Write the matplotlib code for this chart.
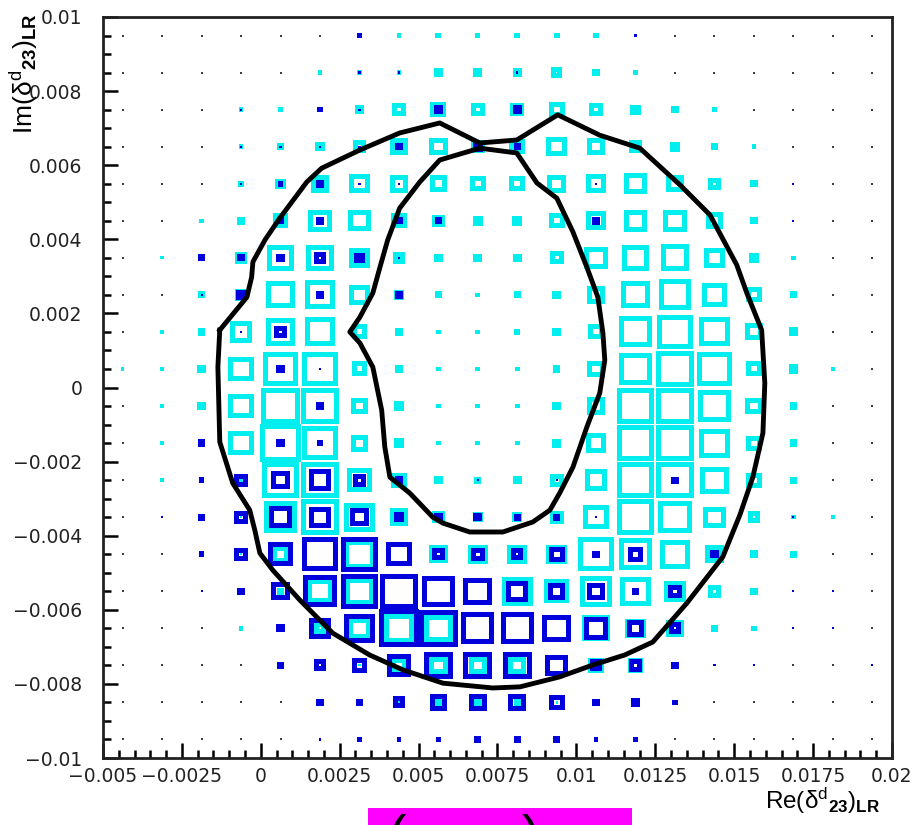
import matplotlib
matplotlib.use('Agg')
import matplotlib.pyplot as plt
from matplotlib.patches import Rectangle, PathPatch
from matplotlib.path import Path
from matplotlib.ticker import MultipleLocator
import numpy as np

plt.rcParams['font.family'] = ['Liberation Sans', 'DejaVu Sans']
plt.rcParams['mathtext.fontset'] = 'custom'
plt.rcParams['mathtext.rm'] = 'Liberation Sans'
plt.rcParams['mathtext.it'] = 'Liberation Sans:italic'
plt.rcParams['mathtext.bf'] = 'Liberation Sans:bold'

x_range = (-0.005, 0.02)
y_range = (-0.01, 0.01)
n_bins_x = 20
n_bins_y = 20

# bin contents (0-100 scale), rows from top (y=0.0095) to bottom (y=-0.0095)
cyan_counts = [
    [0,0,0,0,0,0,0,3,4,3,4,4,4,0,0,0,0,0,0,0],
    [0,0,0,0,0,3,3,3,9,11,9,14,6,4,0,0,0,0,0,0],
    [0,0,0,3,3,0,9,22,27,22,22,27,22,14,6,4,0,0,0,0],
    [0,0,0,3,6,11,22,32,34,22,27,39,34,22,14,6,3,0,0,0],
    [0,0,0,4,14,34,39,34,32,27,27,34,39,44,32,19,6,0,0,0],
    [0,0,3,9,27,47,44,27,19,14,14,27,39,47,47,32,6,0,0,0],
    [0,2,0,19,57,57,39,19,9,9,9,22,47,57,60,39,14,3,0,0],
    [0,0,6,19,60,65,39,14,6,3,6,9,34,60,70,52,27,6,0,0],
    [0,2,6,44,60,65,27,9,3,3,4,9,27,70,77,65,32,11,0,0],
    [2,3,9,52,77,77,27,9,3,3,3,6,32,72,85,77,27,11,2,0],
    [0,2,9,52,85,82,32,14,3,3,3,9,34,82,85,72,32,6,0,0],
    [0,2,0,52,90,77,32,14,3,3,3,11,39,82,82,65,27,6,0,0],
    [0,2,0,4,82,85,52,27,9,6,9,22,44,82,82,60,27,6,0,0],
    [0,0,0,1,72,82,65,34,19,14,14,22,52,82,72,44,19,3,3,0],
    [0,0,0,1,32,77,65,52,34,39,39,39,77,72,65,34,9,6,0,0],
    [0,0,0,0,6,52,60,82,70,60,65,52,70,65,44,22,6,0,0,0],
    [0,0,0,3,0,19,44,65,60,72,72,60,57,39,32,6,4,0,0,0],
    [0,0,0,0,0,0,1,27,34,34,34,44,27,27,0,0,0,0,0,0],
    [0,0,0,0,0,0,0,1,6,9,6,1,0,0,0,0,0,0,0,0],
    [0,0,0,0,0,0,0,0,0,0,0,0,0,0,0,0,0,0,0,0],
]

blue_counts = [
    [0,0,0,0,0,0,4,0,0,0,0,0,0,1,0,0,0,0,0,0],
    [0,0,0,0,0,0,1,1,0,0,1,0,0,0,0,0,0,0,0,0],
    [0,0,0,1,0,4,1,0,9,0,9,0,0,0,0,0,0,0,0,0],
    [0,0,0,1,1,1,1,6,0,14,6,0,0,0,0,0,0,0,0,0],
    [0,0,0,1,4,9,1,1,0,0,0,0,1,0,0,0,0,1,0,0],
    [0,0,0,0,6,9,0,6,6,0,0,0,9,0,0,0,0,1,0,0],
    [0,0,6,6,9,19,14,1,0,0,0,0,0,0,0,0,0,0,0,0],
    [0,0,1,14,0,9,0,9,0,0,0,0,0,0,0,0,0,0,0,0],
    [0,0,0,1,19,0,0,0,0,0,0,0,0,0,0,0,0,0,0,0],
    [0,0,0,0,9,1,0,0,0,0,0,0,0,0,0,0,0,0,0,0],
    [0,0,0,0,0,9,0,0,0,0,0,0,0,0,0,0,0,0,0,0],
    [0,0,6,0,9,4,0,0,0,0,0,0,0,0,0,0,0,0,0,0],
    [0,0,4,22,34,44,22,9,0,1,0,1,0,0,6,0,0,0,0,0],
    [0,1,6,22,47,44,34,14,9,9,6,6,1,0,0,0,0,1,0,0],
    [0,0,4,22,52,77,82,52,19,22,19,27,6,27,0,9,0,0,0,0],
    [0,0,1,6,34,72,82,82,70,60,44,32,32,6,22,0,0,1,1,0],
    [0,0,0,0,9,44,65,90,85,72,72,60,47,32,19,0,0,1,1,0],
    [0,0,0,0,6,19,27,47,60,60,60,44,19,22,6,1,1,0,0,1],
    [0,0,0,0,0,6,6,19,32,34,32,27,6,11,4,0,0,0,0,0],
    [0,0,0,0,0,1,3,3,3,6,6,6,3,4,0,0,0,0,0,0],
]

# contour lines (data coordinates)
outer_x = [-0.0013, -0.00044, -0.00029, -0.00025, 0.00013, 0.0006, 0.00146, 0.00193, 0.00314, 0.0044,
           0.00567, 0.00694, 0.00811, 0.00941, 0.01074, 0.01201, 0.01328, 0.01423, 0.01508, 0.0154,
           0.01587, 0.01597, 0.01591, 0.01559, 0.01518, 0.01464, 0.0135, 0.01242, 0.01153, 0.01052,
           0.00947, 0.00821, 0.00735, 0.00577, 0.0045, 0.00345, 0.00228, 0.00124, 0.00038, -0.00003,
           -0.00019, -0.00035, -0.00089, -0.0013, -0.00136]
outer_y = [0.00155, 0.00244, 0.00298, 0.00339, 0.00398, 0.00457, 0.00555, 0.00592, 0.00641, 0.00687,
           0.00714, 0.0066, 0.00668, 0.00736, 0.00681, 0.00646, 0.00547, 0.00466, 0.00331, 0.00255,
           0.00155, 0.00012, -0.00123, -0.00242, -0.00344, -0.00457, -0.00582, -0.00687, -0.00722, -0.00749,
           -0.00781, -0.00808, -0.00811, -0.00798, -0.00762, -0.00722, -0.00663, -0.00574, -0.00493, -0.00447,
           -0.00385, -0.00331, -0.00258, -0.00147, 0.00055]
inner_x = [0.00694, 0.00567, 0.00504, 0.0044, 0.00402, 0.00377, 0.00355, 0.00314, 0.00282, 0.00314,
           0.00355, 0.00383, 0.00393, 0.00409, 0.00472, 0.00545, 0.00577, 0.00662, 0.00767, 0.00862,
           0.00916, 0.00947, 0.00989, 0.01033, 0.01074, 0.0109, 0.01084, 0.01068, 0.01033, 0.00989,
           0.00938, 0.00875, 0.00811]
inner_y = [0.00646, 0.00614, 0.00555, 0.00484, 0.00398, 0.00323, 0.00255, 0.0019, 0.0015, 0.0012,
           0.00055, -0.00061, -0.00161, -0.00242, -0.00285, -0.0035, -0.00366, -0.0039, -0.0039, -0.00363,
           -0.00331, -0.00285, -0.00215, -0.00107, -0.00015, 0.00074, 0.00147, 0.00244, 0.00325, 0.0042,
           0.00511, 0.00552, 0.00633]

x_tick_values = [-0.005, -0.0025, 0, 0.0025, 0.005, 0.0075, 0.01, 0.0125, 0.015, 0.0175, 0.02]
x_tick_labels = ['\u22120.005', '\u22120.0025', '0', '0.0025', '0.005', '0.0075', '0.01', '0.0125',
                 '0.015', '0.0175', '0.02']
y_tick_values = [-0.01, -0.008, -0.006, -0.004, -0.002, 0, 0.002, 0.004, 0.006, 0.008, 0.01]
y_tick_labels = ['\u22120.01', '\u22120.008', '\u22120.006', '\u22120.004', '\u22120.002', '0',
                 '0.002', '0.004', '0.006', '0.008', '0.01']

x_title = r'Re$\mathrm{(δ}^{\mathrm{d}}{}_{\mathbf{23}}\mathrm{)}_{\mathbf{LR}}$'
y_title = r'Im$\mathrm{(δ}^{\mathrm{d}}{}_{\mathbf{23}}\mathrm{)}_{\mathbf{LR}}$'

W, H = 920, 825
AX_L, AX_R, AX_T, AX_B = 103, 892, 17, 758
fig = plt.figure(figsize=(W / 100, H / 100), dpi=100)
ax = fig.add_axes([AX_L / W, (H - AX_B) / H, (AX_R - AX_L) / W, (AX_B - AX_T) / H])
ax.set_xlim(*x_range)
ax.set_ylim(*y_range)

dx = (x_range[1] - x_range[0]) / n_bins_x
dy = (y_range[1] - y_range[0]) / n_bins_y
x_centers = x_range[0] + dx * (np.arange(n_bins_x) + 0.5)
y_centers = y_range[1] - dy * (np.arange(n_bins_y) + 0.5)

# small dots marking empty cells
cyan_arr = np.array(cyan_counts)
blue_arr = np.array(blue_counts)
XX, YY = np.meshgrid(x_centers, y_centers)
empty = (cyan_arr == 0) & (blue_arr == 0)
ax.scatter(XX[empty], YY[empty], s=2.5, c='#404040', marker='s', linewidths=0, zorder=1)

vmax = 100.0
stroke_px = 5.0
px_per_x = (AX_R - AX_L) / (x_range[1] - x_range[0])
px_per_y = (AX_B - AX_T) / (y_range[1] - y_range[0])


def rect_verts(cx, cy, hw, hh, reverse=False):
    v = [(cx - hw, cy - hh), (cx + hw, cy - hh), (cx + hw, cy + hh), (cx - hw, cy + hh)]
    if reverse:
        v = v[::-1]
    return v + [v[0]]


CODES = [Path.MOVETO, Path.LINETO, Path.LINETO, Path.LINETO, Path.CLOSEPOLY]


def draw_boxes(counts, color, z):
    for j, row in enumerate(counts):
        for i, v in enumerate(row):
            if v <= 0:
                continue
            f = v / vmax
            w, h = f * dx, f * dy
            st = min(stroke_px, 1.0 + 2.0 * w * px_per_x)
            sx, sy = st / px_per_x, st / px_per_y
            cx, cy = x_centers[i], y_centers[j]
            verts = rect_verts(cx, cy, (w + sx) / 2, (h + sy) / 2)
            codes = list(CODES)
            if w > sx and h > sy:
                verts += rect_verts(cx, cy, (w - sx) / 2, (h - sy) / 2, reverse=True)
                codes += CODES
            ax.add_patch(PathPatch(Path(verts, codes), facecolor=color, edgecolor='none',
                                   zorder=z))


draw_boxes(cyan_counts, '#00eeee', 2)
draw_boxes(blue_counts, '#0000dd', 3)

ax.plot(outer_x + outer_x[:1], outer_y + outer_y[:1], color='black', lw=3.5, zorder=5,
        solid_joinstyle='round')
ax.plot(inner_x + inner_x[:1], inner_y + inner_y[:1], color='black', lw=3.5, zorder=5,
        solid_joinstyle='round')

ax.set_xticks(x_tick_values, x_tick_labels)
ax.set_yticks(y_tick_values, y_tick_labels)
ax.xaxis.set_minor_locator(MultipleLocator(0.0005))
ax.yaxis.set_minor_locator(MultipleLocator(0.0005))
ax.tick_params(which='both', direction='in', top=False, right=False, width=1.8, colors='black')
ax.tick_params(which='major', length=11)
ax.tick_params(which='minor', length=5.8)
ax.tick_params(axis='x', pad=6.5)
ax.tick_params(axis='y', pad=15)
for lab in ax.get_xticklabels() + ax.get_yticklabels():
    lab.set_fontfamily('DejaVu Sans')
    lab.set_fontsize(13.5)
    lab.set_color('#222222')
for s in ax.spines.values():
    s.set_linewidth(2.0)
    s.set_color('#222222')

fig.text(880 / W, 1 - 801 / H, x_title, ha='right', va='center', fontsize=17.5)
fig.text(24 / W, 1 - 13 / H, y_title, ha='center', va='top', rotation=90, fontsize=19)

fig.patches.append(Rectangle((368 / W, 0), 264 / W, 17 / H, transform=fig.transFigure,
                             facecolor='#ff00ff', edgecolor='none', zorder=0))
fig.text(397 / W, 1 - 814 / H, '(', ha='center', va='top', fontsize=40, fontweight='light')
fig.text(531 / W, 1 - 814 / H, ')', ha='center', va='top', fontsize=40, fontweight='light')

fig.savefig('out.png', dpi=100)
